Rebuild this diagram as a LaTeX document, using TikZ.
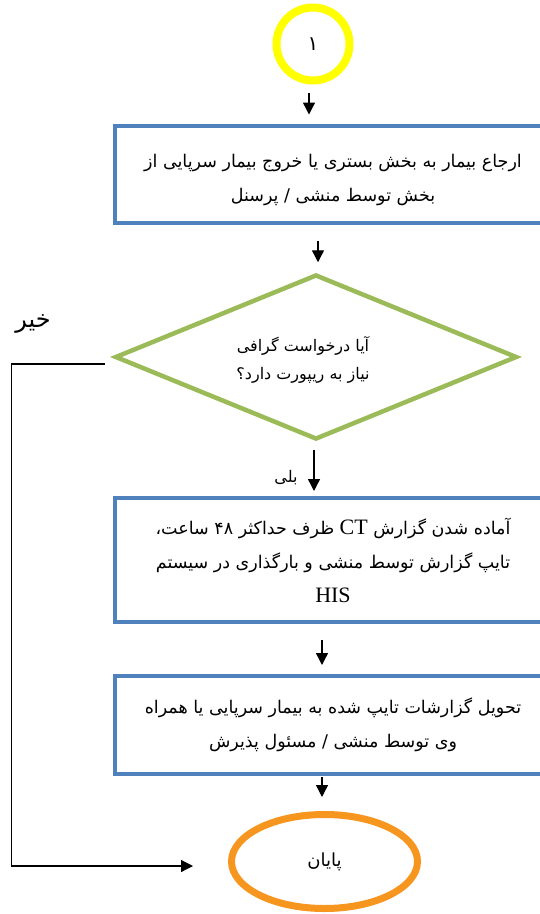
\documentclass[tikz,border=0pt]{standalone}
\usepackage{fontspec}
\setmainfont{Liberation Serif}
\newfontfamily\fa[Script=Arabic]{DejaVu Sans}
\TeXXeTstate=1
\usetikzlibrary{shapes.geometric,arrows.meta,calc}
\definecolor{boxblue}{HTML}{4F81BD}
\definecolor{diagreen}{HTML}{9BBB59}
\definecolor{endorange}{HTML}{F7961E}
\definecolor{startyellow}{HTML}{FFFF00}
\tikzset{
  stepbox/.style={draw=boxblue, line width=4pt, rectangle, minimum width=436pt, inner sep=0pt, align=center, font=\fa\fontsize{17.5}{34}\selectfont},
  arr/.style={draw=black, line width=1.4pt, -{Triangle[width=12pt,length=12pt]}},
  flow/.style={draw=black, line width=1.2pt, -{Triangle[width=12pt,length=12pt]}},
}
\begin{document}
\begin{tikzpicture}[x=1pt,y=-1pt]
\useasboundingbox (0,0) rectangle (540,914);
\clip (0,0) rectangle (540,914);
\fill[white] (0,0) rectangle (540,914);
% start
\node[circle, draw=startyellow, line width=8pt, minimum size=73pt, inner sep=0pt, font=\fa\fontsize{20}{22}\selectfont] (c1) at (313,44) {\beginR ۱\endR};
% box 1
\node[stepbox, minimum height=97pt] (b1) at (333,174) {\rule{0pt}{26pt}\beginR ارجاع بیمار به بخش بستری یا خروج بیمار سرپایی از\endR\\\beginR بخش توسط منشی / پرسنل\endR};
% decision
\node[diamond, draw=diagreen, line width=4.5pt, minimum width=402pt, minimum height=165pt, inner sep=0pt] (dia) at (316,357) {};
\node[align=center, font=\fa\fontsize{16}{28}\selectfont] (diat) at (303,360) {\beginR آیا درخواست گرافی\endR\\\beginR نیاز به ریپورت دارد؟\endR};
% box 2
\node[stepbox, minimum height=124pt] (b2) at (333,560) {\beginR آماده شدن گزارش \beginL{\fontsize{22}{34}\rmfamily CT}\endL{} ظرف حداکثر ۴۸ ساعت،\endR\\\beginR تایپ گزارش توسط منشی و بارگذاری در سیستم\endR\\{\rmfamily\fontsize{22}{34}\selectfont HIS}};
% box 3
\node[stepbox, minimum height=98pt] (b3) at (333,725) {\beginR تحویل گزارشات تایپ شده به بیمار سرپایی یا همراه\endR\\\beginR وی توسط منشی / مسئول پذیرش\endR};
% end
\node[ellipse, draw=endorange, line width=7pt, minimum width=186pt, minimum height=94pt, inner sep=0pt, font=\fa\fontsize{18}{20}\selectfont] (end) at (324.5,861.5) {\beginR پایان\endR};
% labels
\node[font=\fa\fontsize{24}{26}\selectfont] (no) at (33,324) {\beginR خیر\endR};
\node[font=\fa\fontsize{16}{18}\selectfont] (yes) at (286,478) {\beginR بلی\endR};
% connectors
\draw[arr, shorten <=8.5pt, shorten >=9pt] ([xshift=-4pt]c1.south) -- ([xshift=-4pt]c1.south |- b1.north);
\draw[arr, shorten <=16pt, shorten >=10pt] ([xshift=-15pt]b1.south) -- ([xshift=-15pt]b1.south |- dia.north);
\draw[arr, shorten <=8pt, shorten >=5pt] ([xshift=-2pt]dia.south) -- ([xshift=-2pt]dia.south |- b2.north);
\draw[arr, shorten <=16pt, shorten >=9pt] ([xshift=-11pt]b2.south) -- ([xshift=-11pt]b2.south |- b3.north);
\draw[arr, shorten <=1pt, shorten >=14pt] ([xshift=-11pt]b3.south) -- ([xshift=-11pt]b3.south |- end.north);
\draw[flow] ($(dia.west)+(-8,7)$) -- ++(-93,0) |- ($(end.west)+(-35,4.5)$);
\end{tikzpicture}
\end{document}
